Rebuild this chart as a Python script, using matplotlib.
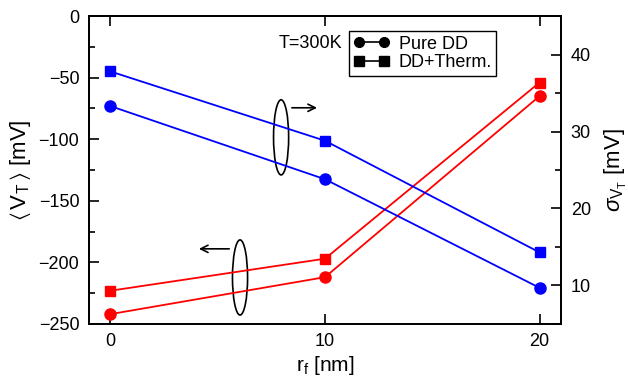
import matplotlib
matplotlib.use('Agg')
import matplotlib.pyplot as plt
from matplotlib.patches import Ellipse
from matplotlib.ticker import MultipleLocator

plt.rcParams['font.family'] = ['Liberation Sans', 'DejaVu Sans']
plt.rcParams['mathtext.fontset'] = 'custom'
plt.rcParams['mathtext.rm'] = 'Liberation Sans'
plt.rcParams['mathtext.it'] = 'Liberation Sans:italic'
plt.rcParams['mathtext.fallback'] = 'stixsans'
plt.rcParams['font.size'] = 13

# data
rf = [0, 10, 20]
vt_pure = [-242, -212, -65]      # <V_T> pure DD (left axis)
vt_therm = [-223, -197, -54]     # <V_T> DD+Therm. (left axis)
sig_pure = [33.3, 23.8, 9.7]     # sigma V_T pure DD (right axis)
sig_therm = [37.8, 28.8, 14.3]   # sigma V_T DD+Therm. (right axis)

red = '#ff0000'
blue = '#0000ff'

fig = plt.figure(figsize=(6.28, 3.84), dpi=100)
ax = fig.add_axes([0.1417, 0.1563, 0.7516, 0.8020])
ax2 = ax.twinx()

ax.plot(rf, vt_pure, '-o', color=red, lw=1.3, ms=8)
ax.plot(rf, vt_therm, '-s', color=red, lw=1.3, ms=6.8)
ax2.plot(rf, sig_pure, '-o', color=blue, lw=1.3, ms=8)
ax2.plot(rf, sig_therm, '-s', color=blue, lw=1.3, ms=6.8)

ax.set_xlim(-1, 21)
ax.set_ylim(-250, 0)
ax2.set_ylim(5, 45)

ax.xaxis.set_major_locator(MultipleLocator(10))
ax.yaxis.set_major_locator(MultipleLocator(50))
ax.yaxis.set_minor_locator(MultipleLocator(25))
ax2.yaxis.set_major_locator(MultipleLocator(10))
ax2.yaxis.set_minor_locator(MultipleLocator(5))

ax.tick_params(axis='x', which='major', direction='in', top=True, length=7, width=1.2, pad=6.5)
ax.tick_params(axis='y', which='major', direction='in', right=False, length=7, width=1.2, pad=7)
ax.tick_params(axis='y', which='minor', direction='in', right=False, length=4.5, width=1.2)
ax2.tick_params(axis='y', which='major', direction='in', length=7, width=1.2, pad=7)
ax2.tick_params(axis='y', which='minor', direction='in', length=4.5, width=1.2)
ax.tick_params(axis='x', which='minor', bottom=False, top=False)

for a in (ax, ax2):
    for s in a.spines.values():
        s.set_linewidth(1.3)

ax.set_xlabel(r'r$_\mathrm{f}$ [nm]', fontsize=15, labelpad=3)
ax.set_ylabel(r'$\langle\,$V$_\mathrm{T}$$\,\rangle$ [mV]', fontsize=16, labelpad=4)
ax2.set_ylabel(r'$\sigma_{\mathrm{V}_\mathrm{T}}$ [mV]', fontsize=16, labelpad=9)

# legend with black symbols
h1, = ax.plot([], [], '-o', color='black', lw=1.2, ms=7)
h2, = ax.plot([], [], '-s', color='black', lw=1.2, ms=6.5)
leg = ax.legend([h1, h2], ['Pure DD', 'DD+Therm.'], loc='upper left',
                bbox_to_anchor=(0.551, 0.951), borderaxespad=0, numpoints=2,
                handlelength=2.0, handletextpad=0.5, labelspacing=0.1,
                borderpad=0.25, fancybox=False, framealpha=1, edgecolor='black')
leg.get_frame().set_linewidth(1.0)

ax.text(0.536, 0.912, 'T=300K', transform=ax.transAxes, ha='right', va='center')

# ellipses and arrows indicating which axis each line pair belongs to
ax.add_patch(Ellipse((0.407, 0.606), 0.032, 0.244, transform=ax.transAxes,
                     fill=False, lw=1.2, color='black'))
ax.annotate('', xy=(0.489, 0.702), xytext=(0.424, 0.702), xycoords='axes fraction',
            arrowprops=dict(arrowstyle='->', lw=1.2, color='black'))
ax.add_patch(Ellipse((0.320, 0.151), 0.032, 0.244, transform=ax.transAxes,
                     fill=False, lw=1.2, color='black'))
ax.annotate('', xy=(0.227, 0.244), xytext=(0.303, 0.244), xycoords='axes fraction',
            arrowprops=dict(arrowstyle='->', lw=1.2, color='black'))

fig.savefig('out.png', dpi=100)
